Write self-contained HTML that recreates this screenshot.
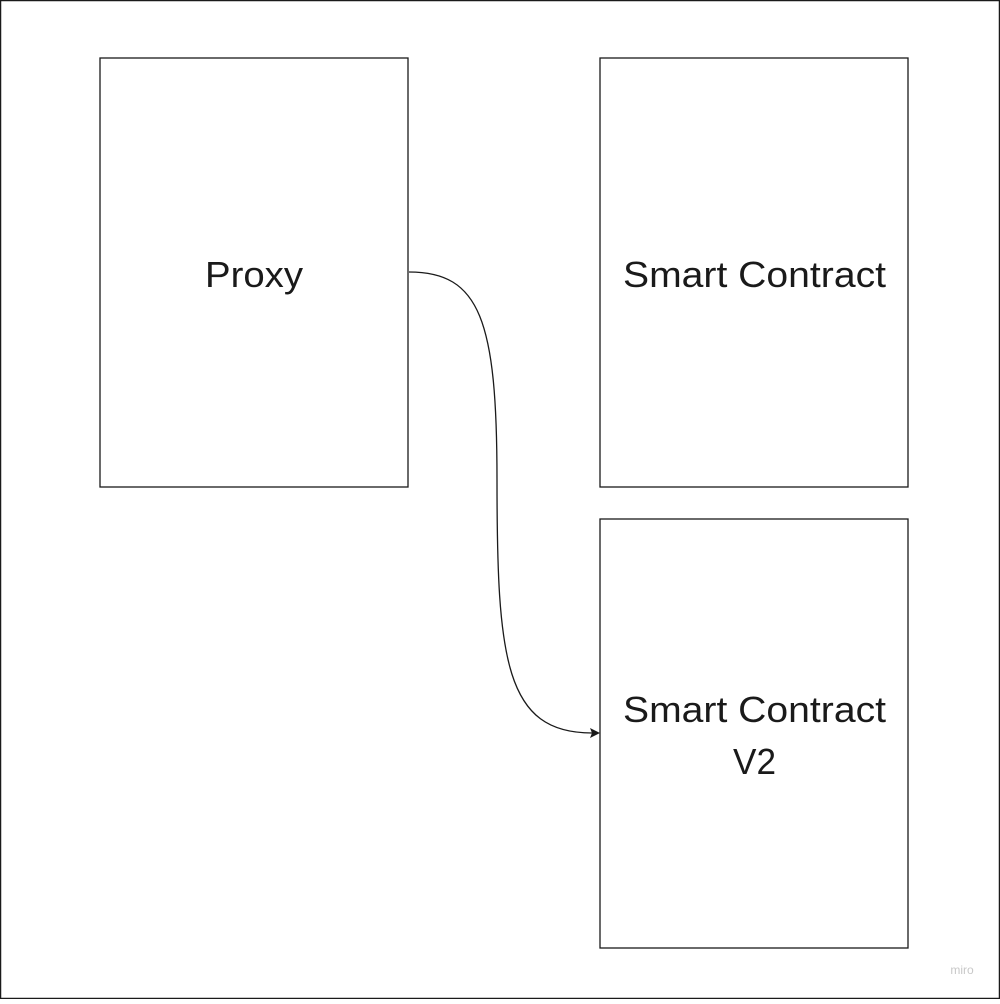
<!DOCTYPE html>
<html><head><style>
html,body{margin:0;padding:0;background:#fff;}
</style></head><body>
<svg width="1000" height="999" viewBox="0 0 1000 999" xmlns="http://www.w3.org/2000/svg">
<rect x="0.5" y="0.5" width="999" height="998" fill="#fff" stroke="#1a1a1a" stroke-width="1.5"/>
<rect x="100" y="58" width="308" height="429" fill="#fff" stroke="#1a1a1a" stroke-width="1.3"/>
<rect x="600" y="58" width="308" height="429" fill="#fff" stroke="#1a1a1a" stroke-width="1.3"/>
<rect x="600" y="519" width="308" height="429" fill="#fff" stroke="#1a1a1a" stroke-width="1.3"/>
<g font-family="'Liberation Sans',sans-serif" font-size="36" fill="#1a1a1a">
<text x="205" y="287" textLength="98" lengthAdjust="spacingAndGlyphs">Proxy</text>
<text x="623" y="287" textLength="263" lengthAdjust="spacingAndGlyphs">Smart Contract</text>
<text x="623" y="722" textLength="263" lengthAdjust="spacingAndGlyphs">Smart Contract</text>
<text x="733" y="774" textLength="43" lengthAdjust="spacingAndGlyphs">V2</text>
</g>
<path d="M409 272 C 480 272, 497 320, 497 480 C 497 660, 505 733, 592 733" fill="none" stroke="#1a1a1a" stroke-width="1.3"/>
<path d="M600 733 L590 728 L592 733 L590 738 Z" fill="#1a1a1a"/>
<text x="962" y="974" font-family="'Liberation Sans',sans-serif" font-size="12" fill="#c8c8c8" text-anchor="middle">miro</text>
</svg>
</body></html>
